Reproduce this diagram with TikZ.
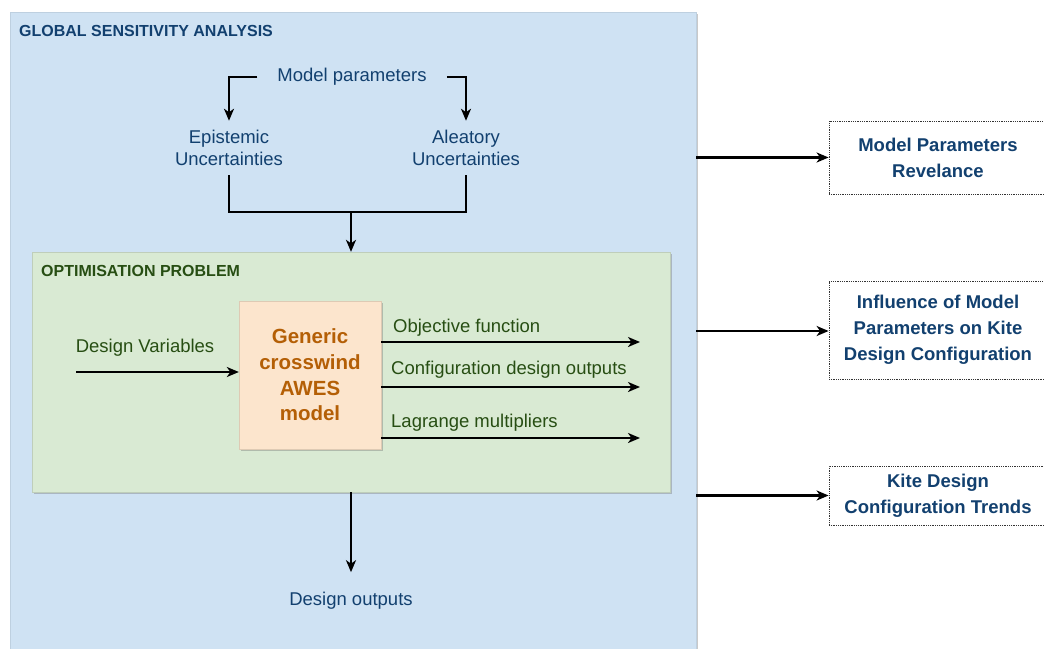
\documentclass[tikz,border=0pt]{standalone}
\usepackage{fontspec}
\setmainfont{Liberation Sans}
\usetikzlibrary{arrows.meta,shadows,calc}
\definecolor{gsafill}{HTML}{CFE2F3}
\definecolor{optfill}{HTML}{D9EAD3}
\definecolor{awesfill}{HTML}{FCE5CD}
\definecolor{bluetxt}{HTML}{12406F}
\definecolor{greentxt}{HTML}{274E13}
\definecolor{orangetxt}{HTML}{B45F06}
\tikzset{
  normtxt/.style={font=\fontsize{18.5pt}{22.5pt}\selectfont, align=center, inner sep=0pt},
  boldtitle/.style={font=\bfseries\fontsize{16pt}{19pt}\selectfont, inner sep=0pt, anchor=west},
  conn/.style={line width=2.1pt, black},
  arr/.style={conn, -{Stealth[length=12pt,width=10pt,inset=3.5pt]}},
  shad/.style={drop shadow={shadow xshift=1.5pt, shadow yshift=-1.5pt, opacity=0.35, fill=black!60}},
  resbox/.style={draw=black!80, densely dotted, line width=0.8pt, align=center,
    text=bluetxt, font=\bfseries\fontsize{18.5pt}{26pt}\selectfont, inner sep=0pt},
}
\begin{document}
\begin{tikzpicture}[x=1pt,y=-1pt]
\useasboundingbox (0,0) rectangle (1044,648);
\fill[white] (0,0) rectangle (1044,648);
% outer blue box
\node[shad, fill=gsafill, draw=gsafill!92!black, line width=0.3pt, minimum width=686pt, minimum height=660pt, inner sep=0pt] (gsa) at (353,342) {};
\node[boldtitle, text=bluetxt] (gsat) at (19,31) {GLOBAL SENSITIVITY ANALYSIS};
% model parameters
\node[normtxt, text=bluetxt, inner xsep=20pt] (mp) at (352,77) {Model parameters};
\node[normtxt, text=bluetxt, inner ysep=9pt] (ep) at (229,148) {Epistemic\\Uncertainties};
\node[normtxt, text=bluetxt, inner ysep=9pt] (al) at (466,148) {Aleatory\\Uncertainties};
\draw[arr] (mp.west) -| (ep.north);
\draw[arr] (mp.east) -| (al.north);
\coordinate (j) at (351,212);
% optimisation box
\node[shad, fill=optfill, draw=optfill!88!black, line width=0.3pt, minimum width=638pt, minimum height=240pt, inner sep=0pt] (opt) at (351,372) {};
\draw[conn] (ep.south) -- (ep.south |- j) -- (al.south |- j) -- (al.south);
\draw[arr] (j) -- (opt.north);
\node[boldtitle, text=greentxt] (optt) at (41,271) {OPTIMISATION PROBLEM};
% AWES model
\node[shad, fill=awesfill, draw=awesfill!88!black, line width=0.3pt, minimum width=142pt, minimum height=148pt, align=center, inner sep=0pt,
  text=orangetxt, font=\bfseries\fontsize{20.5pt}{25.6pt}\selectfont] (awes) at (310,375) {Generic\\crosswind\\AWES\\model};
\node[normtxt, text=greentxt] (dv) at (145,348) {Design Variables};
\coordinate (dvs) at (76,372);
\draw[arr] (dvs) -- (awes.west |- dvs);
\coordinate (o1) at (640,342);
\coordinate (o2) at (640,387);
\coordinate (o3) at (640,438);
\draw[arr] (awes.east |- o1) -- (o1);
\draw[arr] (awes.east |- o2) -- (o2);
\draw[arr] (awes.east |- o3) -- (o3);
\node[normtxt, text=greentxt, anchor=west] (l1) at (393,328) {Objective function};
\node[normtxt, text=greentxt, anchor=west] (l2) at (391,370) {Configuration design outputs};
\node[normtxt, text=greentxt, anchor=west] (l3) at (391,423) {Lagrange multipliers};
% design outputs
\node[normtxt, text=bluetxt, inner ysep=20pt] (do) at (351,601) {Design outputs};
\draw[arr] (opt.south) -- (do.north);
% result boxes
\node[resbox, minimum width=218pt, minimum height=73pt] (r1) at (938,157.5) {Model Parameters\\Revelance};
\node[resbox, minimum width=218pt, minimum height=98pt] (r2) at (938,330) {Influence of Model\\Parameters on Kite\\Design Configuration};
\node[resbox, minimum width=218pt, minimum height=59pt] (r3) at (938,495.5) {Kite Design\\Configuration Trends};
\draw[arr] (gsa.east |- r1.west) -- (r1.west);
\draw[arr] ($(gsa.east |- r2.west)+(0,1)$) -- ($(r2.west)+(0,1)$);
\draw[arr] (gsa.east |- r3.west) -- (r3.west);
\end{tikzpicture}
\end{document}
